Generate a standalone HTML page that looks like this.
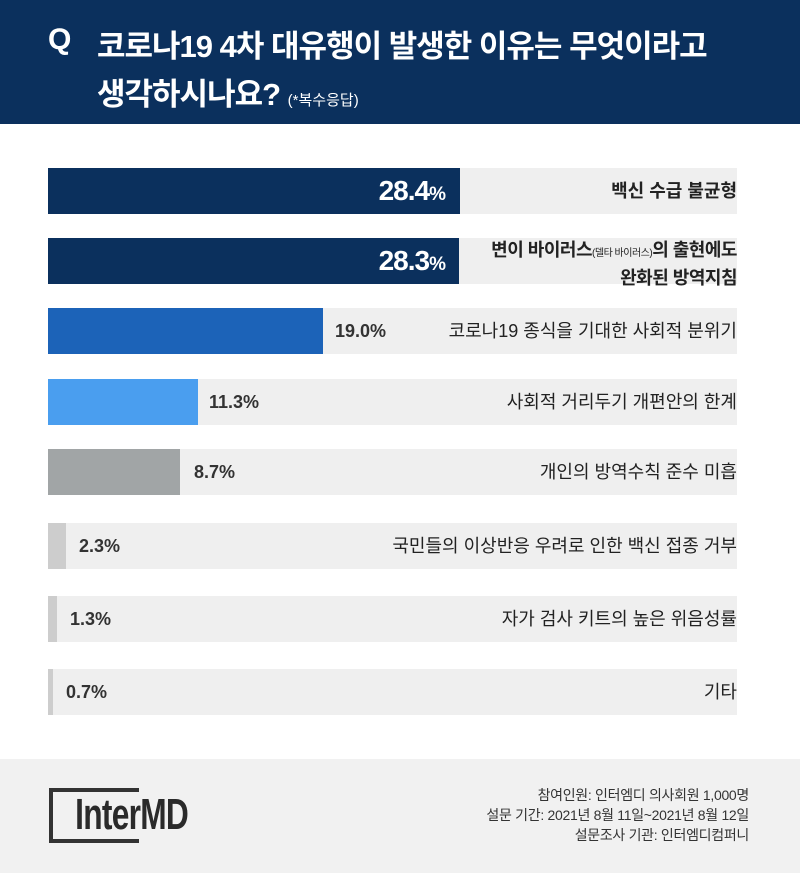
<!DOCTYPE html>
<html><head><meta charset="utf-8"><style>
*{margin:0;padding:0;box-sizing:border-box}
body{width:800px;height:873px;background:#fff;position:relative;overflow:hidden;font-family:"Liberation Sans","Noto Sans CJK KR",sans-serif;color:#222}
.hdr{position:absolute;left:0;top:0;width:800px;height:124px;background:#0b305d}
.hdr .t{position:absolute;color:#fff;font-weight:bold;font-size:31px;letter-spacing:-1px;white-space:nowrap}
.row{position:absolute;left:48px;width:689px;height:46px;background:#efefef}
.bar{position:absolute;left:0;top:0;height:46px}
.pct{position:absolute;top:0;height:46px;line-height:46px;font-weight:bold;font-size:18px;color:#333;white-space:nowrap}
.lab{position:absolute;right:0;top:0;height:46px;line-height:46px;font-size:18px;color:#222;white-space:nowrap;text-align:right;width:400px}
.foot{position:absolute;left:0;top:759px;width:800px;height:114px;background:#f1f1f1}
</style></head><body>
<div class="hdr">
<div class="t" style="left:48px;top:23px;font-size:30px">Q</div>
<div class="t" style="left:97px;top:21px">코로나19 4차 대유행이 발생한 이유는 무엇이라고</div>
<div class="t" style="left:97px;top:69px">생각하시나요? <span style="font-weight:normal;font-size:15px;letter-spacing:0">(*복수응답)</span></div>
</div>

<div class="row" style="top:168px"><div class="bar" style="width:412px;background:#0b305d"></div>
<div class="pct" style="right:292px;color:#fff;font-size:28px;letter-spacing:-1px">28.4<span style="font-size:19px">%</span></div>
<div class="lab" style="font-weight:bold">백신 수급 불균형</div></div>

<div class="row" style="top:238px"><div class="bar" style="width:411px;background:#0b305d"></div>
<div class="pct" style="right:292px;color:#fff;font-size:28px;letter-spacing:-1px">28.3<span style="font-size:19px">%</span></div>
<div class="lab" style="font-weight:bold;line-height:24px;width:280px;letter-spacing:-0.5px">변이 바이러스<span style="font-size:10px;font-weight:normal">(델타 바이러스)</span>의 출현에도<br>완화된 방역지침</div></div>

<div class="row" style="top:308px"><div class="bar" style="width:275px;background:#1c63b8"></div>
<div class="pct" style="left:287px">19.0%</div>
<div class="lab">코로나19 종식을 기대한 사회적 분위기</div></div>

<div class="row" style="top:379px"><div class="bar" style="width:150px;background:#4a9eef"></div>
<div class="pct" style="left:161px">11.3%</div>
<div class="lab">사회적 거리두기 개편안의 한계</div></div>

<div class="row" style="top:449px"><div class="bar" style="width:132px;background:#a1a5a6"></div>
<div class="pct" style="left:146px">8.7%</div>
<div class="lab">개인의 방역수칙 준수 미흡</div></div>

<div class="row" style="top:523px"><div class="bar" style="width:18px;background:#cdcdcd"></div>
<div class="pct" style="left:31px">2.3%</div>
<div class="lab">국민들의 이상반응 우려로 인한 백신 접종 거부</div></div>

<div class="row" style="top:596px"><div class="bar" style="width:9px;background:#cdcdcd"></div>
<div class="pct" style="left:22px">1.3%</div>
<div class="lab">자가 검사 키트의 높은 위음성률</div></div>

<div class="row" style="top:669px"><div class="bar" style="width:5px;background:#cdcdcd"></div>
<div class="pct" style="left:18px">0.7%</div>
<div class="lab">기타</div></div>

<div class="foot">
<div style="position:absolute;left:49px;top:29px;width:90px;height:55px;border:4px solid #333;border-right:none"></div>
<div style="position:absolute;left:72px;top:35px;height:42px;width:130px;background:#f1f1f1"></div>
<div style="position:absolute;left:73px;top:27px;font-size:44px;font-weight:bold;color:#2a2a2a;letter-spacing:-1px;transform:scaleX(0.72);transform-origin:left;padding:0 3px;line-height:58px">InterMD</div>
<div style="position:absolute;right:51px;top:26px;text-align:right;font-size:14px;line-height:20px;color:#333;letter-spacing:-0.3px">참여인원: 인터엠디 의사회원 1,000명<br>설문 기간: 2021년 8월 11일~2021년 8월 12일<br>설문조사 기관: 인터엠디컴퍼니</div>
</div>
</body></html>
